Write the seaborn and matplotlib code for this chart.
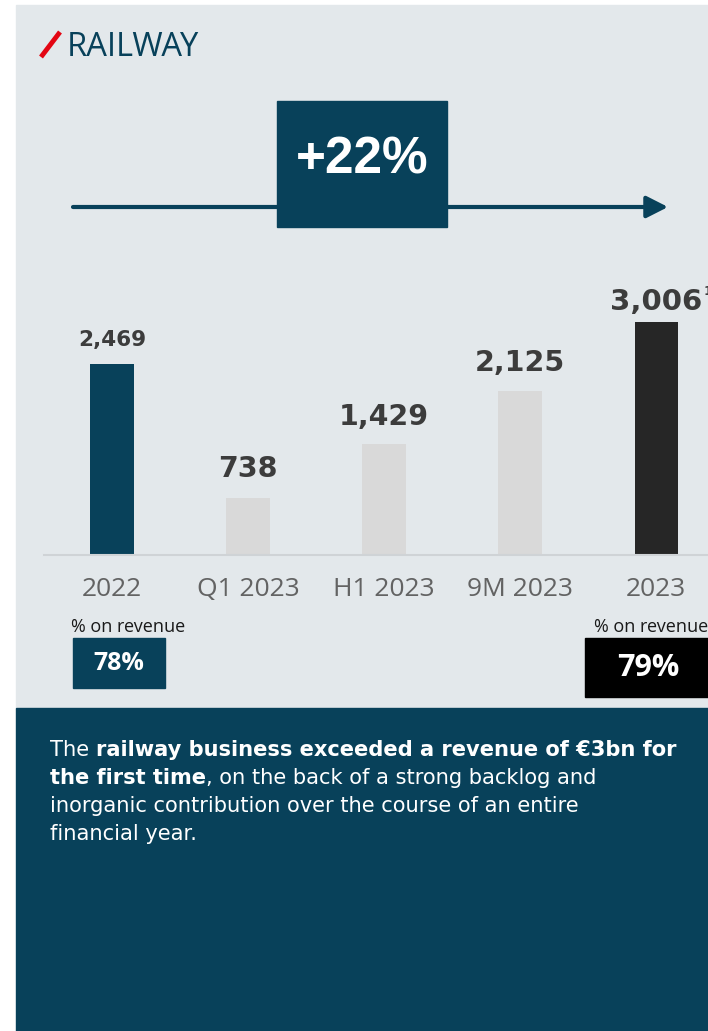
import os
import pandas as pd
import seaborn as sns
import matplotlib
matplotlib.use("Agg")
import matplotlib.pyplot as plt
from matplotlib import font_manager as fm
from matplotlib.patches import Rectangle
from matplotlib.lines import Line2D

# data
periods = ["2022", "Q1 2023", "H1 2023", "9M 2023", "2023"]
revenue = [2469, 738, 1429, 2125, 3006]
value_labels = ["2,469", "738", "1,429", "2,125", "3,006"]
growth_label = "+22%"
share_labels = ["78%", "79%"]
share_caption = "% on revenue"
title = "RAILWAY"
footnote_mark = "1"
body_lines = [
    [("The ", "normal"), ("railway business exceeded a revenue of €3bn for", "bold")],
    [("the first time", "bold"), (", on the back of a strong backlog and", "normal")],
    [("inorganic contribution over the course of an entire", "normal")],
    [("financial year.", "normal")],
]

NAVY = "#08415A"
PANEL = "#E3E8EB"
W, H = 708, 1031

FONT_FILES = fm.findSystemFonts()


def font(basename, family, weight="normal", size=12):
    # pick the static font file so condensed variants are never chosen
    for f in FONT_FILES:
        if os.path.basename(f).lower() == basename.lower():
            return fm.FontProperties(fname=f, size=size)
    return fm.FontProperties(family=family, weight=weight, size=size)


def fx(x):
    return x / W


def fy(y):
    return 1 - y / H


sns.set_theme(style="white")
plt.rcParams["font.family"] = ["DejaVu Sans"]

fig = plt.figure(figsize=(W / 100, H / 100), dpi=100)
fig.patch.set_facecolor("white")

# background panels
fig.add_artist(Rectangle((fx(16), fy(708)), fx(708) - fx(16), fy(5) - fy(708),
                         transform=fig.transFigure, color=PANEL, zorder=0))
fig.add_artist(Rectangle((fx(16), 0), fx(708) - fx(16), fy(708),
                         transform=fig.transFigure, color=NAVY, zorder=0))

# title
fig.add_artist(Line2D([fx(41), fx(60)], [fy(57), fy(32)], transform=fig.transFigure,
                      color="#E30613", lw=3.5, solid_capstyle="butt"))
fig.text(fx(67), fy(56), title, color=NAVY, va="baseline", ha="left",
         fontproperties=font("OpenSans-Regular.ttf", "Open Sans", size=23.5))

# growth arrow and box
fig.add_artist(plt.Annotation("", xy=(fx(668), fy(207)), xytext=(fx(73), fy(207)),
                              xycoords="figure fraction", textcoords="figure fraction",
                              arrowprops=dict(arrowstyle="-|>,head_length=0.65,head_width=0.33",
                                              mutation_scale=20, lw=3, color=NAVY,
                                              shrinkA=0, shrinkB=0)))
fig.add_artist(Rectangle((fx(277), fy(227)), fx(447) - fx(277), fy(101) - fy(227),
                         transform=fig.transFigure, color=NAVY, zorder=3))
fig.text(fx(362), fy(160), growth_label, color="white", ha="center", va="center", zorder=4,
         fontproperties=font("LiberationSans-Bold.ttf", "Liberation Sans", "bold", 37))

# bar chart
ax = fig.add_axes([fx(44), fy(555), fx(708) - fx(44), fy(240) - fy(555)])
ax.set_facecolor("none")
df = pd.DataFrame({"period": periods, "revenue": revenue})
bar_colors = [NAVY, "#D9D9D9", "#D9D9D9", "#D9D9D9", "#262626"]
sns.barplot(data=df, x="period", y="revenue", hue="period", palette=bar_colors,
            width=0.32, legend=False, ax=ax, saturation=1, linewidth=0, edgecolor="none")
ax.set_xlim(-0.5, 4.38)
ax.set_ylim(0, 4070)
ax.set_xlabel("")
ax.set_ylabel("")
ax.set_yticks([])
for s in ["top", "right", "left"]:
    ax.spines[s].set_visible(False)
ax.spines["bottom"].set_color("#CFD3D6")
ax.spines["bottom"].set_linewidth(1.5)
ax.tick_params(axis="x", length=0, pad=16, labelcolor="#636363")
tick_font = font("OpenSans-Regular.ttf", "Open Sans", size=19)
for lab in ax.get_xticklabels():
    lab.set_fontproperties(tick_font)

label_sizes = [15.5, 20.5, 20.5, 20.5, 21]
label_pads = [13, 15, 14, 14, 9]
for i, (v, lab) in enumerate(zip(revenue, value_labels)):
    t = ax.annotate(lab, xy=(i, v), xytext=(0, label_pads[i]), textcoords="offset points",
                    ha="center", va="baseline", fontsize=label_sizes[i], fontweight="bold",
                    family=["DejaVu Sans"], color="#3C3C3C", annotation_clip=False)
# footnote mark next to the last label, cut off by the page edge
ax.annotate(footnote_mark, xy=(len(revenue) - 1, revenue[-1]), xytext=(34, 20),
            textcoords="offset points", ha="left", va="baseline", fontsize=9,
            fontweight="bold", color="#3C3C3C", annotation_clip=False)

# share of revenue boxes
caption_font = font("OpenSans-Regular.ttf", "Open Sans", size=13)
fig.text(fx(71), fy(632), share_caption, color="#1A1A1A", va="baseline",
         fontproperties=caption_font)
fig.add_artist(Rectangle((fx(73), fy(688)), fx(165) - fx(73), fy(638) - fy(688),
                         transform=fig.transFigure, color=NAVY, zorder=3))
fig.text(fx(119), fy(664), share_labels[0], color="white", ha="center", va="center", zorder=4,
         fontproperties=font("OpenSans-Bold.ttf", "Open Sans", "bold", 18))

fig.text(fx(594), fy(632), share_caption, color="#1A1A1A", va="baseline",
         fontproperties=caption_font)
fig.add_artist(Rectangle((fx(585), fy(697)), fx(710) - fx(585), fy(638) - fy(697),
                         transform=fig.transFigure, color="black", zorder=3))
fig.text(fx(648), fy(668), share_labels[1], color="white", ha="center", va="center", zorder=4,
         fontproperties=font("OpenSans-Bold.ttf", "Open Sans", "bold", 22))

# body text with mixed weights
renderer = fig.canvas.get_renderer()
for n, line in enumerate(body_lines):
    x = fx(50)
    y = fy(756 + 28 * n)
    for chunk, weight in line:
        t = fig.text(x, y, chunk, color="white", fontsize=15.1, fontweight=weight,
                     family=["DejaVu Sans"], va="baseline", ha="left")
        bb = t.get_window_extent(renderer=renderer)
        x += bb.width / W

fig.savefig("out.png", dpi=100)
